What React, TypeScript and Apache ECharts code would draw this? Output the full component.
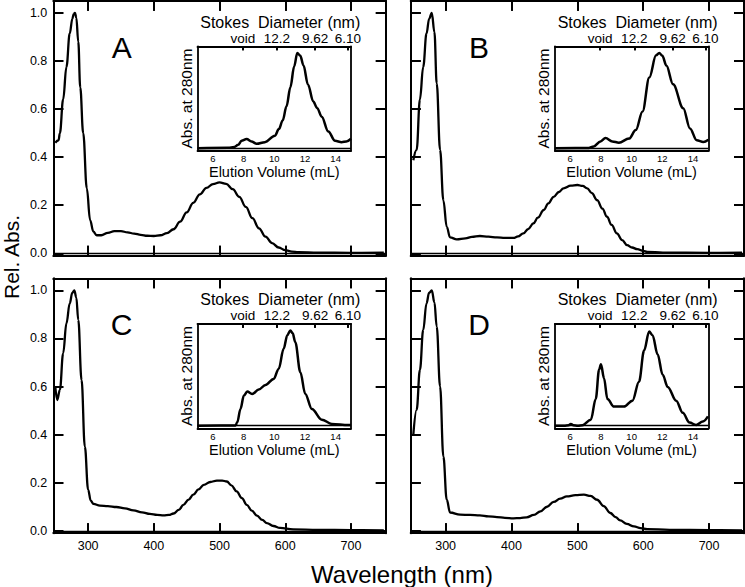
import React, { useEffect, useRef } from "react";
import * as echarts from "echarts";

const FONT = "'Liberation Sans', Arial, Helvetica, sans-serif";

// ---------- Main spectra (wavelength nm, relative absorbance) ----------
const wlA = [250, 255, 257, 262, 267, 272, 276, 278, 280, 282, 285, 288, 292.5, 298, 303, 308, 313, 320, 330, 340, 350, 360, 370, 380, 390, 400, 410, 420, 430, 440, 450, 460, 470, 480, 490, 500, 510, 520, 530, 540, 550, 560, 570, 580, 590, 600, 610, 620, 650, 700, 750];
const absA = [0.46, 0.47, 0.5, 0.64, 0.775, 0.914, 0.975, 0.995, 1.0, 0.98, 0.88, 0.69, 0.5, 0.27, 0.138, 0.09, 0.075, 0.075, 0.085, 0.092, 0.092, 0.087, 0.082, 0.077, 0.073, 0.072, 0.075, 0.084, 0.1, 0.132, 0.17, 0.21, 0.245, 0.272, 0.288, 0.295, 0.289, 0.267, 0.235, 0.193, 0.146, 0.104, 0.069, 0.042, 0.024, 0.013, 0.007, 0.005, 0.003, 0.002, 0.003];

const wlB = [251, 256, 261, 266, 271, 275, 279, 283, 286.5, 291.6, 296.6, 301.7, 306.8, 317, 330, 340, 352, 365, 378, 390, 403, 410, 418, 425, 433.5, 440, 449, 456, 464, 472, 479, 490, 500, 508, 515, 522, 530, 538, 545, 552, 560, 568, 575.5, 583, 591, 600, 606, 630, 700, 750];
const absB = [0.387, 0.43, 0.64, 0.775, 0.914, 0.975, 1.0, 0.92, 0.706, 0.43, 0.22, 0.11, 0.066, 0.058, 0.062, 0.068, 0.072, 0.069, 0.066, 0.064, 0.064, 0.07, 0.083, 0.1, 0.125, 0.148, 0.18, 0.208, 0.235, 0.255, 0.27, 0.281, 0.284, 0.28, 0.27, 0.25, 0.221, 0.186, 0.152, 0.118, 0.083, 0.055, 0.034, 0.024, 0.017, 0.01, 0.006, 0.003, 0.002, 0.003];

const wlC = [250, 253, 257, 262, 267, 272, 276, 279, 282, 285, 290, 295, 300, 304, 308, 318, 330, 343, 356, 369, 382, 394, 405, 415, 423, 430, 438, 445, 453, 460, 468, 476, 486, 496, 504, 511, 518, 526, 534, 541.5, 549, 557, 565, 572, 582, 592, 612, 650, 700, 750];
const absC = [0.6, 0.544, 0.586, 0.738, 0.863, 0.946, 0.99, 1.0, 0.97, 0.877, 0.627, 0.35, 0.171, 0.125, 0.112, 0.105, 0.103, 0.099, 0.093, 0.085, 0.077, 0.07, 0.066, 0.064, 0.066, 0.072, 0.087, 0.108, 0.13, 0.15, 0.172, 0.191, 0.203, 0.209, 0.209, 0.205, 0.189, 0.164, 0.136, 0.108, 0.084, 0.063, 0.045, 0.032, 0.02, 0.012, 0.006, 0.004, 0.003, 0.002];

const wlD = [251, 256, 261, 266, 271, 275, 279, 283, 286.5, 291.6, 296.6, 301.7, 306.8, 322, 337, 352, 365, 378, 390, 403, 413, 423, 434, 444, 454, 464, 474, 484, 497, 510, 520, 530, 540, 550, 558, 565, 575, 586, 596, 606, 640, 700, 750];
const absD = [0.4, 0.503, 0.669, 0.835, 0.946, 0.99, 1.0, 0.95, 0.849, 0.6, 0.309, 0.129, 0.076, 0.067, 0.066, 0.064, 0.06, 0.057, 0.054, 0.052, 0.053, 0.056, 0.066, 0.081, 0.1, 0.12, 0.134, 0.143, 0.148, 0.15, 0.145, 0.129, 0.103, 0.074, 0.057, 0.043, 0.029, 0.018, 0.011, 0.007, 0.004, 0.003, 0.002];

// ---------- Inset SEC profiles (elution volume mL, normalized A280) ----------
const mlA = [5, 7, 7.4, 7.65, 7.87, 8.2, 8.52, 8.85, 9.39, 10.04, 10.3, 10.55, 10.8, 11.05, 11.3, 11.5, 11.7, 11.9, 12.2, 12.54, 12.8, 13.09, 13.52, 13.96, 14.39, 14.7, 15];
const secA = [0, 0.003, 0.012, 0.035, 0.077, 0.095, 0.07, 0.046, 0.063, 0.13, 0.2, 0.29, 0.44, 0.64, 0.86, 1.0, 0.97, 0.87, 0.667, 0.49, 0.42, 0.33, 0.175, 0.077, 0.063, 0.07, 0.098];

const mlB = [5, 7.2, 7.53, 7.97, 8.3, 8.74, 9.17, 9.83, 10.27, 10.71, 11.15, 11.59, 11.8, 12.0, 12.26, 12.7, 13.36, 13.8, 14.24, 14.67, 15];
const secB = [0, 0.002, 0.018, 0.071, 0.107, 0.071, 0.057, 0.1, 0.19, 0.386, 0.743, 0.975, 1.0, 0.97, 0.868, 0.67, 0.42, 0.207, 0.082, 0.064, 0.089];

const mlC = [5, 7.48, 7.59, 7.8, 8.02, 8.24, 8.56, 8.99, 9.43, 9.96, 10.29, 10.61, 10.85, 11.05, 11.2, 11.37, 11.7, 12.02, 12.45, 13.1, 13.75, 14.83, 15];
const secC = [0, 0.002, 0.035, 0.175, 0.316, 0.358, 0.333, 0.379, 0.428, 0.49, 0.596, 0.807, 0.95, 1.0, 0.97, 0.877, 0.561, 0.333, 0.175, 0.063, 0.018, 0.007, 0.007];

const mlD = [5, 5.6, 5.9, 6.04, 6.2, 6.5, 6.8, 7.34, 7.66, 7.88, 8.0, 8.2, 8.42, 8.85, 9.5, 10.05, 10.48, 10.81, 11.14, 11.36, 11.69, 12.02, 12.35, 12.9, 13.33, 13.77, 14.2, 14.64, 14.97];
const secD = [0, 0, 0.005, 0.018, 0.005, 0, 0.004, 0.062, 0.28, 0.589, 0.644, 0.498, 0.28, 0.2, 0.2, 0.262, 0.462, 0.789, 0.989, 0.95, 0.75, 0.535, 0.407, 0.262, 0.135, 0.033, 0.007, 0.044, 0.098];

// ---------- Ticks and labels ----------
const wavelengthTicks = [300, 400, 500, 600, 700];
const absTicks = [0, 0.2, 0.4, 0.6, 0.8, 1.0];
const elutionTicks = [6, 8, 10, 12, 14];
const stokesPositions = [7.95, 10.17, 12.67, 14.8];
const stokesLabels = ["void", "12.2", "9.62", "6.10"];
const panelLetters = ["A", "B", "C", "D"];

const mainX = [wlA, wlB, wlC, wlD];
const mainY = [absA, absB, absC, absD];
const insetX = [mlA, mlB, mlC, mlD];
const insetY = [secA, secB, secC, secD];

// layout
const panelLefts = [53.3, 410.7, 53.3, 410.7];
const panelTops = [0.8, 0.8, 278.3, 278.3];
const panelWidths = [332.5, 333.3, 332.5, 333.3];
const PANEL_H = 254.9;
const INSET_DX = 144.2;
const INSET_DY = 45.5;
const INSET_W = 153.5;
const INSET_H = 104.5;
const WL_MIN = 247;
const WL_MAX = 753;
const REL_MIN = -0.01;
const REL_MAX = 1.05;
const SEC_MIN = -0.028;
const SEC_MAX = 1.07;
const TICK_PX = 10;

export default function App() {
  const ref = useRef<HTMLDivElement>(null);

  useEffect(() => {
    const chart = echarts.init(ref.current!, null, { renderer: "svg" });
    const black = "#000";
    const grids: any[] = [];
    const xAxes: any[] = [];
    const yAxes: any[] = [];
    const series: any[] = [];
    const graphics: any[] = [];
    const mainTick = (vals: number[]) => ({ show: true, inside: true, length: TICK_PX, customValues: vals, lineStyle: { color: black, width: 2 } });

    for (let i = 0; i < 4; i++) {
      const row = Math.floor(i / 2);
      const col = i % 2;
      grids.push({ left: panelLefts[i], top: panelTops[i], width: panelWidths[i], height: PANEL_H });
      const axLine = () => ({ show: true, onZero: false, lineStyle: { color: black, width: 2 } });
      const xi = xAxes.length;
      xAxes.push({
        gridIndex: i, type: "value", min: WL_MIN, max: WL_MAX, position: "bottom",
        axisLine: axLine(), axisTick: mainTick(wavelengthTicks),
        axisLabel: { show: row === 1, customValues: wavelengthTicks, margin: 6, fontSize: 12.5, color: black, fontFamily: FONT },
        splitLine: { show: false },
      });
      xAxes.push({
        gridIndex: i, type: "value", min: WL_MIN, max: WL_MAX, position: "top",
        axisLine: axLine(), axisTick: mainTick(wavelengthTicks),
        axisLabel: { show: false }, splitLine: { show: false },
      });
      const yi = yAxes.length;
      yAxes.push({
        gridIndex: i, type: "value", min: REL_MIN, max: REL_MAX, position: "left",
        axisLine: axLine(), axisTick: mainTick(absTicks),
        axisLabel: { show: col === 0, customValues: absTicks, margin: 6, fontSize: 12.5, color: black, fontFamily: FONT, formatter: (v: number) => v.toFixed(1) },
        splitLine: { show: false },
      });
      yAxes.push({
        gridIndex: i, type: "value", min: REL_MIN, max: REL_MAX, position: "right",
        axisLine: axLine(), axisTick: mainTick(absTicks),
        axisLabel: { show: false }, splitLine: { show: false },
      });
      // tick segments in data units (10 px converted through the panel's scale)
      const tly = (TICK_PX * (REL_MAX - REL_MIN)) / PANEL_H;
      const tlx = (TICK_PX * (WL_MAX - WL_MIN)) / panelWidths[i];
      const tickSegs: any[] = [];
      wavelengthTicks.forEach((v) => {
        tickSegs.push([{ coord: [v, REL_MIN] }, { coord: [v, REL_MIN + tly] }]);
        tickSegs.push([{ coord: [v, REL_MAX] }, { coord: [v, REL_MAX - tly] }]);
      });
      absTicks.forEach((a) => {
        tickSegs.push([{ coord: [WL_MIN, a] }, { coord: [WL_MIN + tlx, a] }]);
        tickSegs.push([{ coord: [WL_MAX, a] }, { coord: [WL_MAX - tlx, a] }]);
      });
      series.push({
        type: "line", xAxisIndex: xi, yAxisIndex: yi,
        data: mainX[i].map((x, k) => [x, mainY[i][k]]),
        showSymbol: false, smooth: 0.4, smoothMonotone: "x",
        lineStyle: { color: black, width: 2.3 },
        markLine: {
          silent: true, symbol: "none", label: { show: false }, animation: false,
          lineStyle: { color: black, width: 2, type: "solid" },
          data: [{ yAxis: 0, lineStyle: { color: black, width: 1.3, type: "solid" } }, ...tickSegs],
        },
      });
      graphics.push({
        type: "text", x: panelLefts[i] + 68.4, y: panelTops[i] + 46.3,
        style: { text: panelLetters[i], font: `30px ${FONT}`, fill: black, align: "center", verticalAlign: "middle" },
      });
    }

    for (let i = 0; i < 4; i++) {
      const gi = 4 + i;
      const L = panelLefts[i] + INSET_DX;
      const T = panelTops[i] + INSET_DY;
      grids.push({ left: L, top: T, width: INSET_W, height: INSET_H });
      const axLine = () => ({ show: true, onZero: false, lineStyle: { color: black, width: 1.8 } });
      const xi = xAxes.length;
      xAxes.push({
        gridIndex: gi, type: "value", min: 5, max: 15, position: "bottom",
        axisLine: axLine(), axisTick: { show: false },
        axisLabel: { show: true, customValues: elutionTicks, margin: 3, fontSize: 9.5, color: black, fontFamily: FONT },
        splitLine: { show: false },
        name: "Elution Volume (mL)", nameLocation: "middle", nameGap: 13,
        nameTextStyle: { fontSize: 14.5, color: black, fontFamily: FONT },
      });
      xAxes.push({
        gridIndex: gi, type: "value", min: 5, max: 15, position: "top",
        axisLine: axLine(),
        axisTick: { show: true, inside: true, length: 4, customValues: stokesPositions, lineStyle: { color: black, width: 2 } },
        axisLabel: {
          show: true, customValues: stokesPositions, margin: 1, fontSize: 13.5, color: black, fontFamily: FONT,
          formatter: (v: number) => {
            let best = 0;
            for (let k = 1; k < stokesPositions.length; k++) if (Math.abs(stokesPositions[k] - v) < Math.abs(stokesPositions[best] - v)) best = k;
            return stokesLabels[best];
          },
        },
        splitLine: { show: false },
        name: "Stokes  Diameter (nm)", nameLocation: "middle", nameGap: 16,
        nameTextStyle: { fontSize: 16, color: black, fontFamily: FONT, padding: [0, 0, 0, 12] },
      });
      const yi = yAxes.length;
      yAxes.push({
        gridIndex: gi, type: "value", min: SEC_MIN, max: SEC_MAX, position: "left",
        axisLine: axLine(), axisTick: { show: false }, axisLabel: { show: false }, splitLine: { show: false },
        name: "Abs. at 280nm", nameLocation: "middle", nameRotate: 90, nameGap: 3,
        nameTextStyle: { fontSize: 15.5, color: black, fontFamily: FONT },
      });
      yAxes.push({
        gridIndex: gi, type: "value", min: SEC_MIN, max: SEC_MAX, position: "right",
        axisLine: axLine(), axisTick: { show: false }, axisLabel: { show: false }, splitLine: { show: false },
      });
      const tls = (4 * (SEC_MAX - SEC_MIN)) / INSET_H;
      const stokesSegs = stokesPositions.map((s) => [{ coord: [s, SEC_MAX] }, { coord: [s, SEC_MAX - tls] }]);
      series.push({
        type: "line", xAxisIndex: xi, yAxisIndex: yi,
        data: insetX[i].map((x, k) => [x, insetY[i][k]]),
        showSymbol: false, smooth: 0.35, smoothMonotone: "x",
        lineStyle: { color: black, width: 2.5 },
        markLine: {
          silent: true, symbol: "none", label: { show: false }, animation: false,
          lineStyle: { color: black, width: 2, type: "solid" },
          data: [{ yAxis: 0, lineStyle: { color: black, width: 1.3, type: "solid" } }, ...stokesSegs],
        },
      });
    }

    graphics.push({
      type: "text", x: 11, y: 257, rotation: Math.PI / 2,
      style: { text: "Rel. Abs.", font: `21px ${FONT}`, fill: black, align: "center", verticalAlign: "middle" },
    });
    graphics.push({
      type: "text", x: 402, y: 574,
      style: { text: "Wavelength (nm)", font: `24px ${FONT}`, fill: black, align: "center", verticalAlign: "middle" },
    });

    chart.setOption({
      animation: false,
      backgroundColor: "#fff",
      grid: grids,
      xAxis: xAxes,
      yAxis: yAxes,
      series,
      graphic: graphics,
    });
    return () => chart.dispose();
  }, []);

  return <div ref={ref} style={{ position: "absolute", left: 0, top: 0, width: 745, height: 587, background: "#fff" }} />;
}
